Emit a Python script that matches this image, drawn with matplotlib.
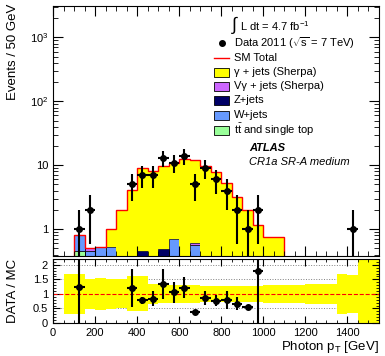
import matplotlib
matplotlib.use("Agg")
import matplotlib.pyplot as plt
import numpy as np
from matplotlib.lines import Line2D
from matplotlib.patches import Rectangle
from matplotlib.ticker import FixedLocator, FuncFormatter, MultipleLocator

plt.rcParams["font.family"] = ["Liberation Sans", "DejaVu Sans"]
plt.rcParams["mathtext.fontset"] = "custom"
plt.rcParams["mathtext.rm"] = "Liberation Sans"
plt.rcParams["mathtext.it"] = "Liberation Sans:italic"
plt.rcParams["mathtext.bf"] = "Liberation Sans:bold"

# MC bins (50 GeV), low edges 100 ... 1050
mc_low = np.arange(100, 1100, 50)
mc_total = [0.8, 0.5, 0.53, 1.02, 2.0, 4.1, 9.0, 8.2, 9.8, 11.0, 12.3,
            12.0, 9.8, 7.8, 5.2, 3.2, 2.0, 1.15, 0.75, 0.75]
ttbar = [0.45, 0, 0, 0, 0, 0, 0, 0, 0, 0, 0, 0, 0, 0, 0, 0, 0, 0, 0, 0]
wjets = [0.35, 0.46, 0.52, 0.52, 0, 0, 0, 0, 0, 0.70, 0, 0.56, 0, 0, 0, 0, 0, 0, 0, 0]
zjets = [0, 0, 0, 0, 0, 0, 0.46, 0, 0.49, 0, 0, 0, 0, 0, 0, 0, 0, 0, 0, 0]
vgamma = [0, 0.04, 0, 0, 0, 0, 0, 0, 0, 0, 0, 0.05, 0, 0, 0, 0, 0, 0, 0, 0]

# data
data_x = [125, 175, 375, 425, 475, 525, 575, 625, 675, 725, 775, 825, 875, 925, 975, 1425]
data_n = [1, 2, 5, 7, 7, 13, 11, 14, 5, 9, 6, 4, 2, 1, 2, 1]

# ratio panel
ratio_x = [125, 375, 425, 475, 525, 575, 625, 675, 725, 775, 825, 875, 925, 975]
ratio = [1.25, 1.2, 0.78, 0.84, 1.34, 1.05, 1.22, 0.38, 0.86, 0.77, 0.79, 0.67, 0.55, 1.8]
ratio_err = [1.4, 0.65, 0.12, 0.25, 0.5, 0.35, 0.37, 0.03, 0.25, 0.2, 0.32, 0.24, 0.08, 1.9]

# MC uncertainty band in ratio panel, low edges 50 ... 1500
band_low = np.arange(50, 1550, 50)
band_half = [0.68, 0.68, 0.52, 0.55, 0.52, 0.5, 0.6, 0.6, 0.35, 0.32, 0.3, 0.3,
             0.3, 0.28, 0.27, 0.27, 0.27, 0.27, 0.28, 0.3, 0.3, 0.3, 0.3, 0.33,
             0.33, 0.33, 0.68, 0.65, 1.5, 1.5]

c_gamma = "#ffff00"
c_vgamma = "#cc66ff"
c_z = "#000066"
c_w = "#6699ff"
c_tt = "#99ff99"

fig = plt.figure(figsize=(3.85, 3.56), dpi=100)
ax = fig.add_axes([53 / 385, 1 - 256 / 356, 326 / 385, 250 / 356])
axr = fig.add_axes([53 / 385, 1 - 323 / 356, 326 / 385, 64 / 356])

ax.set_yscale("log")

# stacked MC
gamma = np.array(mc_total) - np.array(ttbar) - np.array(wjets) - np.array(zjets) - np.array(vgamma)
gamma = np.clip(gamma, 0, None)
bottom = np.full(len(mc_low), 1e-3)
layers = [
    (ttbar, c_tt, "black"),
    (wjets, c_w, "black"),
    (zjets, c_z, "black"),
    (vgamma, c_vgamma, "black"),
    (gamma, c_gamma, "none"),
]
for values, color, edge in layers:
    values = np.array(values, dtype=float)
    mask = values > 0
    ax.bar(mc_low[mask], values[mask], width=50, bottom=bottom[mask], align="edge",
           color=color, edgecolor=edge, linewidth=0.5)
    bottom = bottom + values

edges = np.append(mc_low, mc_low[-1] + 50)
ax.stairs(mc_total, edges, color="red", linewidth=1.0, baseline=1e-3)

# data points
data_n = np.array(data_n, dtype=float)
err = np.sqrt(data_n)
low = np.minimum(err, data_n - 1e-2)
ax.errorbar(data_x, data_n, yerr=[low, err], xerr=25, fmt="o", color="black",
            markersize=4, elinewidth=1.5, capsize=0, zorder=5)

ax.set_xlim(0, 1550)
ax.set_ylim(0.38, 3100)
ax.yaxis.set_major_locator(FixedLocator([1, 10, 100, 1000]))
ax.yaxis.set_major_formatter(FuncFormatter(
    lambda v, p: {1: "1", 10: "10", 100: r"$10^2$", 1000: r"$10^3$"}.get(int(round(v)), "")))
ax.xaxis.set_major_locator(MultipleLocator(200))
ax.xaxis.set_minor_locator(MultipleLocator(50))
ax.set_xticklabels([])
ax.tick_params(which="both", direction="in", top=True, right=True, labelsize=8)
ax.tick_params(which="major", length=7)
ax.tick_params(which="minor", length=3.5)
ax.set_ylabel("Events / 50 GeV", fontsize=9.5, loc="top")
ax.yaxis.set_label_coords(-0.105, 1.01)

# ratio panel
for yv in [0.5, 1.5, 2.0]:
    axr.axhline(yv, color="gray", linestyle=":", linewidth=0.7, zorder=0)
axr.bar(band_low, 2 * np.array(band_half), width=50, bottom=1 - np.array(band_half),
        align="edge", color=c_gamma, edgecolor="none", zorder=1)
axr.axhline(1.0, color="red", linestyle="--", linewidth=0.8, zorder=2)
axr.errorbar(ratio_x, ratio, yerr=ratio_err, xerr=25, fmt="o", color="black",
             markersize=4, elinewidth=1.5, capsize=0, zorder=5)
axr.set_xlim(0, 1550)
axr.set_ylim(0, 2.2)
axr.yaxis.set_major_locator(FixedLocator([0, 0.5, 1, 1.5, 2]))
axr.yaxis.set_major_formatter(FuncFormatter(lambda v, p: f"{v:g}"))
axr.yaxis.set_minor_locator(MultipleLocator(0.1))
axr.xaxis.set_major_locator(MultipleLocator(200))
axr.xaxis.set_minor_locator(MultipleLocator(50))
axr.tick_params(which="both", direction="in", top=True, right=True, labelsize=8)
axr.tick_params(which="major", length=5)
axr.tick_params(which="minor", length=2.5)
axr.set_ylabel("DATA / MC", fontsize=9.5)
axr.yaxis.set_label_coords(-0.105, 0.5)
axr.set_xlabel(r"Photon p$_\mathrm{T}$ [GeV]", fontsize=9.5, loc="right", labelpad=1)


def fx(x):
    return x / 385


def fy(y):
    return 1 - y / 356


# legend drawn by hand
fig.text(fx(231), fy(25), r"$\int$", fontsize=13, va="center")
fig.text(fx(240), fy(26), r"L dt = 4.7 fb$^{-1}$", fontsize=8, va="center")
fig.add_artist(Line2D([fx(222)], [fy(43)], marker="o", color="black", markersize=4,
                      transform=fig.transFigure))
fig.text(fx(234), fy(43), r"Data 2011 ($\sqrt{\mathrm{s}}$ = 7 TeV)", fontsize=8, va="center")
fig.add_artist(Line2D([fx(214), fx(229)], [fy(58), fy(58)], color="red", linewidth=1,
                      transform=fig.transFigure))
fig.text(fx(234), fy(58), "SM Total", fontsize=8, va="center")
entries = [
    (72, c_gamma, "γ + jets (Sherpa)"),
    (86, c_vgamma, "Vγ + jets (Sherpa)"),
    (100, c_z, "Z+jets"),
    (115, c_w, "W+jets"),
    (130, c_tt, r"$\mathrm{t\bar{t}}$ and single top"),
]
for yc, color, label in entries:
    fig.add_artist(Rectangle((fx(214), fy(yc + 4.5)), 15 / 385, 9 / 356,
                             transform=fig.transFigure, facecolor=color,
                             edgecolor="black", linewidth=0.6))
    fig.text(fx(234), fy(yc), label, fontsize=8, va="center")

fig.text(fx(249), fy(148), "ATLAS", fontsize=8, fontweight="bold", fontstyle="italic", va="center")
fig.text(fx(249), fy(162), "CR1a SR-A medium", fontsize=8, fontstyle="italic", va="center")

fig.savefig("out.png", dpi=100)
plt.close(fig)
